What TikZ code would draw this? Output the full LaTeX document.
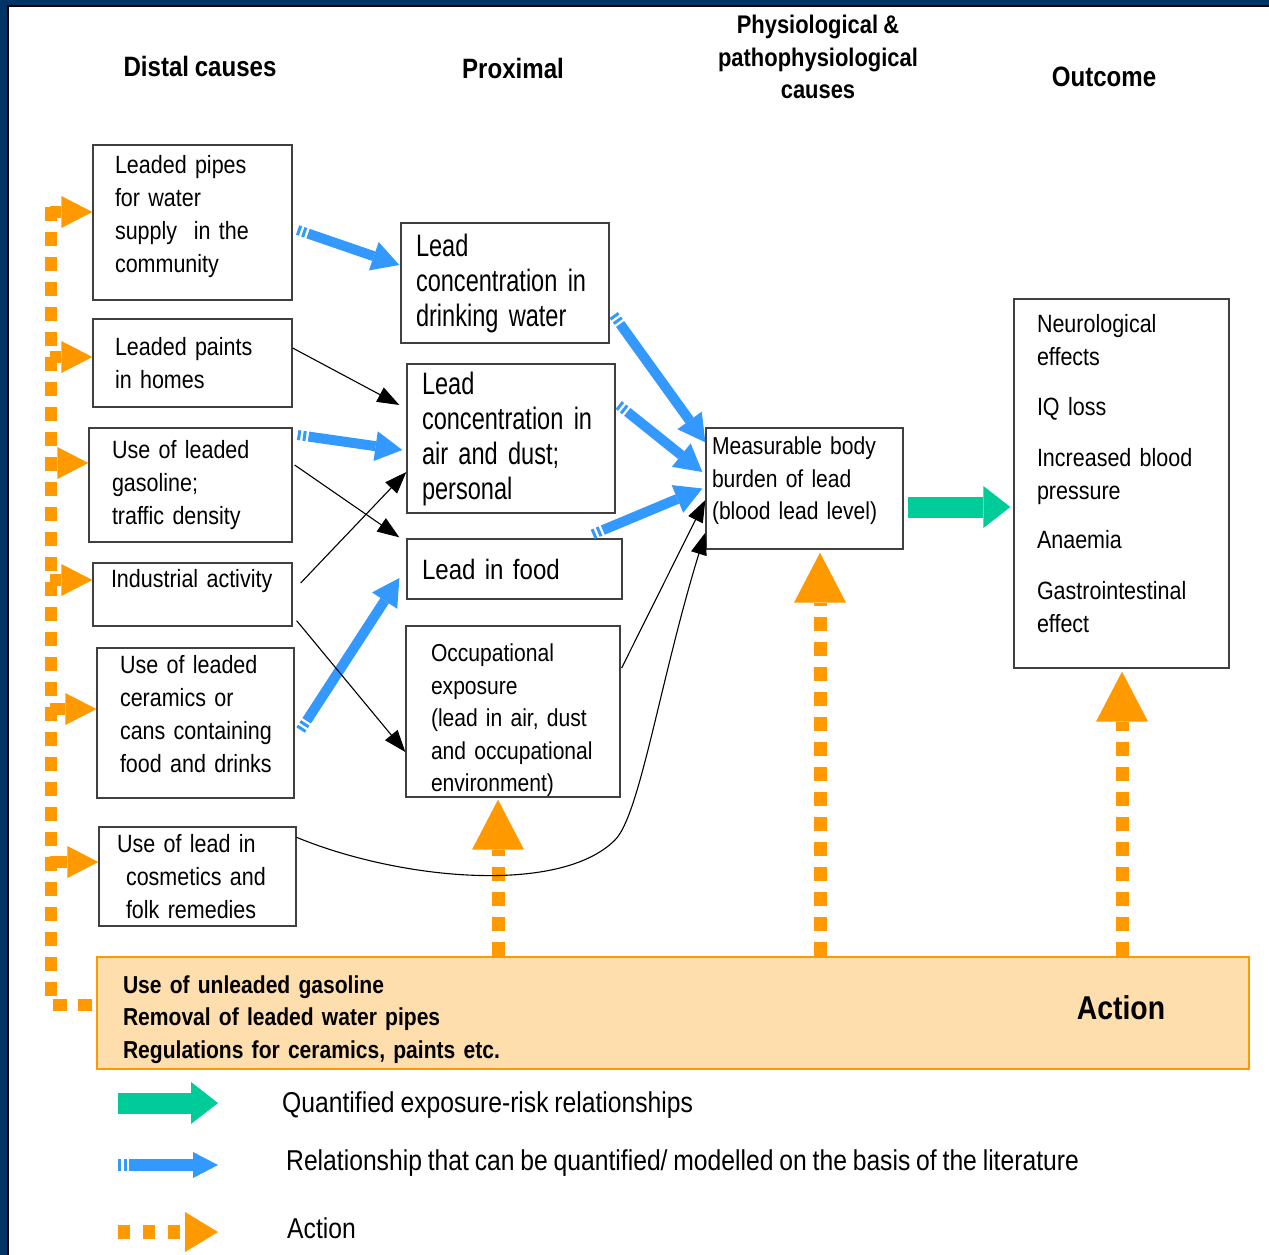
\documentclass[tikz,border=0pt]{standalone}
\usepackage{fontspec}
\setmainfont{Liberation Sans}[FakeStretch=0.86,WordSpace=0.85]
\newfontfamily\condfont{Liberation Sans}[FakeStretch=0.76,WordSpace=0.7]
\usetikzlibrary{arrows.meta,calc,positioning}
\definecolor{frameblue}{RGB}{0,51,102}
\definecolor{litblue}{RGB}{51,153,255}
\definecolor{qgreen}{RGB}{0,204,153}
\definecolor{actorange}{RGB}{255,153,0}
\newcommand{\fs}[2]{\fontsize{#1}{#2}\selectfont}

\tikzset{
  box/.style={draw=black!75, line width=1.3pt, fill=white, align=left, inner ysep=0pt},
  hdr/.style={font=\fs{28}{33}\bfseries, align=center},
  blk/.style={draw=black, line width=1.1pt, -{Triangle[length=22pt,width=16pt]}},
  lit/.style={draw=litblue, line width=10pt, -{Triangle[length=27pt,width=30pt,line width=0pt]}, dash pattern=on 3pt off 2.5pt on 3pt off 2.5pt on 2000pt},
  act/.style={draw=actorange, line width=13pt, dash pattern=on 14pt off 11pt, -{Triangle[length=50pt,width=52pt,line width=0pt]}},
  actbranch/.style={draw=actorange, line width=12pt, -{Triangle[length=31pt,width=32pt,line width=0pt]}},
  quant/.style={draw=qgreen, line width=21pt, -{Triangle[length=27pt,width=42pt,line width=0pt]}},
  legend/.style={anchor=west, font=\fs{28.7}{33}, inner sep=0pt},
}

\begin{document}
\begin{tikzpicture}[x=1pt,y=-1pt]
  \useasboundingbox (0,0) rectangle (1269,1255);
  % Frame
  \fill[frameblue] (0,0) rectangle (1269,1255);
  \fill[white] (9,7) rectangle (1269,1255);
  \draw[black, line width=2pt] (8,1255) -- (8,6) -- (1269,6);

  % Headers
  \node[hdr] (hdist) at (200,66) {Distal causes};
  \node[hdr] (hprox) at (513,68) {Proximal};
  \node[hdr, font=\fs{25.5}{32.5}\bfseries] (hphys) at (818,57) {Physiological \&\\pathophysiological\\causes};
  \node[hdr] (hout) at (1104,77) {Outcome};

  % Distal causes
  \node[box, font=\fs{25}{33}, text width=155pt, inner xsep=22pt, minimum height=155pt] (pipes) at (192.5,222.5) {Leaded pipes\\for water\\supply\ \ in the\\community\\[-16pt]\mbox{}};
  \node[box, font=\fs{25}{33}, text width=155pt, inner xsep=22pt, minimum height=88pt] (paints) at (192.5,363) {Leaded paints\\in homes};
  \node[box, font=\fs{25}{33}, text width=157pt, inner xsep=23pt, minimum height=114pt] (gasoline) at (190.5,485) {Use of leaded\\gasoline;\\traffic density};
  \node[box, font=\fs{25}{33}, text width=163pt, inner xsep=18pt, minimum height=63pt] (industry) at (192.5,594.5) {Industrial activity\\\mbox{}};
  \node[box, font=\fs{25}{33}, text width=151pt, inner xsep=23pt, minimum height=150pt] (ceramics) at (195.5,723) {Use of leaded\\ceramics or\\\mbox{cans containing}\\\mbox{food and drinks}\\[-14pt]\mbox{}};
  \node[box, font=\fs{25}{33}, text width=161pt, inner xsep=18pt, minimum height=99pt] (cosmetics) at (197.5,876.5) {Use of lead in\\\hspace*{9pt}cosmetics and\\\hspace*{9pt}folk remedies};

  % Proximal
  \node[box, font=\condfont\fs{31}{35}, text width=178pt, inner xsep=15pt, minimum height=120pt] (water) at (505,283) {Lead\\concentration in\\drinking water};
  \node[box, font=\condfont\fs{31}{35}, text width=178pt, inner xsep=15pt, minimum height=149pt] (airdust) at (511,438.5) {Lead\\concentration in\\air and dust;\\personal};
  \node[box, font=\fs{28}{33}, text width=185pt, inner xsep=15pt, minimum height=60pt] (food) at (514.5,569) {Lead in food};
  \node[box, font=\fs{24.5}{32.5}, text width=164pt, inner xsep=25pt, minimum height=169pt] (occup) at (513,711.5) {\mbox{}\\[3.5pt]Occupational\\exposure\\(lead in air, dust\\and occupational\\environment)};

  % Body burden and outcome
  \node[box, font=\fs{24.5}{32.5}, text width=185pt, inner xsep=6pt, minimum height=121pt] (body) at (804.5,488.5) {Measurable body\\burden of lead\\(blood lead level)\\[-12pt]\mbox{}};
  \node[box, font=\fs{25}{33}, text width=169pt, inner xsep=23pt, minimum height=369pt] (outcome) at (1121.5,483.5) {Neurological\\effects\\[17pt]IQ loss\\[18pt]Increased blood\\pressure\\[16pt]Anaemia\\[18pt]Gastrointestinal\\effect\\[-12pt]\mbox{}};

  % Action
  \node[box, draw=actorange, fill=actorange!32, line width=2pt, font=\fs{24.5}{32.5}\bfseries, text width=1100pt, inner xsep=26pt, minimum height=112pt] (action) at (673,1013) {\mbox{}\\[-1.5pt]Use of unleaded gasoline\\Removal of leaded water pipes\\Regulations for ceramics, paints etc.};
  \node[font=\fs{33}{38}\bfseries] (actlbl) at (1121,1008) {Action};

  % Action spine and branches
  \coordinate (spinetop) at (51,207);
  \coordinate (spinebot) at (51,1005);
  \draw[actorange, line width=12pt, dash pattern=on 14pt off 11pt] (spinetop) -- (spinebot) -- (spinebot -| action.west);
  \foreach \b/\dx/\dy in {pipes/42/-10.5, paints/42/-6, gasoline/38/-22, industry/42/-14.5, ceramics/46/-14, cosmetics/48/-14.5}
    \draw[actbranch] ($(\b.west)+(-\dx,\dy)$) -- ($(\b.west)+(0,\dy)$);
  \draw[act] ($(action.north -| occup.south)+(-15,0)$) -- ($(occup.south)+(-15,2)$);
  \draw[act] ($(action.north -| body.south)+(15.5,0)$) -- ($(body.south)+(15.5,3)$);
  \draw[act] ($(action.north -| outcome.south)+(0.5,0)$) -- ($(outcome.south)+(0.5,3)$);

  % Relationships from the literature
  \draw[lit] ($(pipes.east)+(5,7.5)$) -- ($(water.west)+(-1,-18)$);
  \draw[lit] ($(gasoline.east)+(5,-50)$) -- ($(airdust.west)+(-4,11.5)$);
  \draw[lit] ($(ceramics.east)+(6,7)$) -- ($(food.west)+(-7,9)$);
  \draw[lit] ($(water.east)+(4,32)$) -- ($(body.north west)+(0,15)$);
  \draw[lit] ($(airdust.east)+(3,-33.5)$) -- ($(body.west)+(-3,-16.5)$);
  \draw[lit] ($(food.north east)+(-30,-4)$) -- ($(body.west)+(-3,0)$);

  % Other links
  \draw[blk] ($(paints.east)+(0,-15)$) -- ($(airdust.west)+(-7,-33.5)$);
  \draw[blk] ($(gasoline.east)+(2,-20)$) -- ($(food.north west)+(-7,-1)$);
  \draw[blk] ($(industry.east)+(8,-11.5)$) -- ($(airdust.west)+(0,33.5)$);
  \draw[blk] ($(industry.south east)+(4,-6)$) -- ($(occup.west)+(0,40.5)$);
  \draw[blk] ($(occup.east)+(1,-43.5)$) -- ($(body.west)+(0,11.5)$);
  \draw[blk] ($(cosmetics.north east)+(0,11)$) .. controls (400,880) and (560,895) .. (615,840) .. controls (640,815) and (660,680) .. ($(body.south west)+(0,-17)$);

  % Quantified relationship
  \draw[quant] ($(body.east)+(4,18.5)$) -- ($(outcome.west)+(-3,23.5)$);

  % Legend
  \node[legend] (lgquant) at (282,1105) {Quantified exposure-risk relationships};
  \node[legend] (lglit) at (286,1163) {Relationship that can be quantified/ modelled on the basis of the literature};
  \node[legend] (lgact) at (287,1228) {Action};
  \draw[quant] ($(lgquant.west)+(-164,-2)$) -- ($(lgquant.west)+(-64,-2)$);
  \draw[lit, line width=12pt, -{Triangle[length=25pt,width=26pt,line width=0pt]}] ($(lglit.west)+(-168,2)$) -- ($(lglit.west)+(-68,2)$);
  \draw[act, line width=14pt, dash pattern=on 12pt off 13pt, -{Triangle[length=33pt,width=40pt,line width=0pt]}] ($(lgact.west)+(-169,4)$) -- ($(lgact.west)+(-69,4)$);
\end{tikzpicture}
\end{document}
